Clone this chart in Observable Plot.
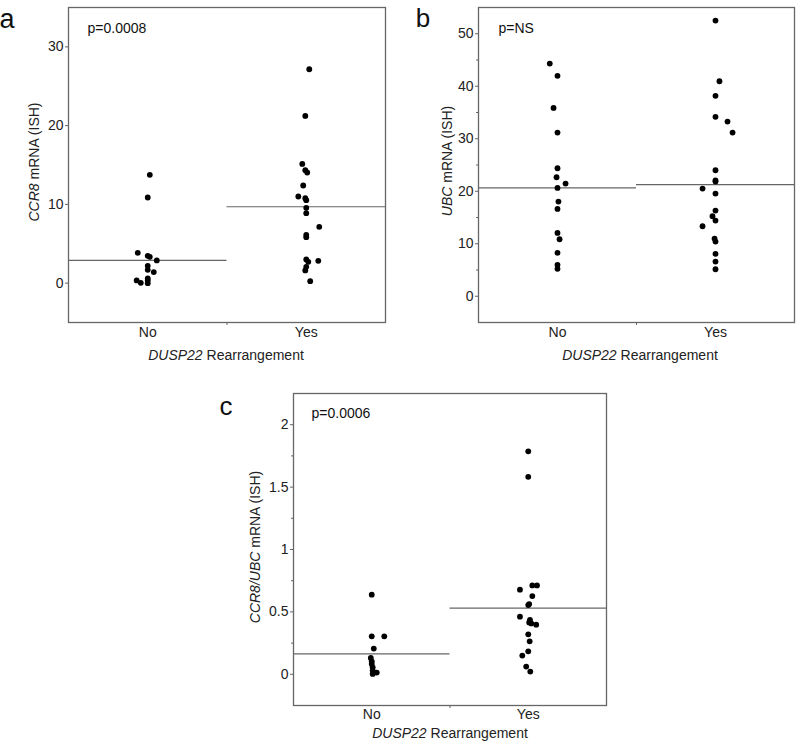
<!DOCTYPE html>
<html><head><meta charset="utf-8">
<script src="https://cdn.jsdelivr.net/npm/d3@7"></script>
<script src="https://cdn.jsdelivr.net/npm/@observablehq/plot@0.6"></script>
<style>
body{margin:0;background:#fff;font-family:"Liberation Sans",Arial,sans-serif;}
#wrap{position:relative;width:800px;height:746px;overflow:hidden;}
#wrap svg{position:absolute;overflow:visible;}
</style></head><body><div id="wrap"></div>
<script>
// ---------- data ----------
const groups = ["No", "Yes"];
const xTitle = ["DUSP22", " Rearrangement"];

// Panel a: CCR8 mRNA (ISH)
const ccr8No     = [13.75, 10.87, 3.85, 3.47, 3.34, 2.88, 2.2, 1.69, 1.4, 0.34, 0.04, 0.59, 0.34, 0];
const ccr8NoJit  = [0.013, 0, -0.063, 0, 0.013, 0.057, 0, 0, 0.038, -0.07, -0.044, 0, 0, 0];
const ccr8Yes    = [27.16, 21.23, 15.14, 14.34, 14.05, 12.4, 11.0, 10.79, 10.53, 9.56, 8.88, 7.15, 6.13, 5.84, 3.0, 2.71, 2.83, 2.07, 1.61, 0.25];
const ccr8YesJit = [0.019, -0.006, -0.025, -0.006, 0.006, -0.019, -0.05, -0.006, 0, 0, 0, 0.082, 0, 0, 0, 0.013, 0.076, 0, -0.006, 0.025];
const ccr8Means  = [2.9, 9.7];
const ccr8Ticks  = [0, 10, 20, 30];

// Panel b: UBC mRNA (ISH)
const ubcNo     = [44.32, 41.98, 35.88, 31.18, 24.38, 22.67, 21.47, 20.64, 18.04, 16.64, 12.07, 10.86, 8.27, 5.98, 5.22];
const ubcNoJit  = [-0.049, 0, -0.025, 0, 0, -0.006, 0.051, 0, 0.006, 0, 0, 0.013, 0, 0, 0];
const ubcYes    = [52.51, 40.95, 38.17, 34.17, 33.28, 31.18, 24.0, 22.05, 21.85, 20.51, 19.56, 16.32, 15.24, 14.42, 13.33, 10.99, 10.42, 8.08, 6.61, 5.14];
const ubcYesJit = [0, 0.025, 0, 0, 0.076, 0.108, 0, 0, 0, -0.082, 0, 0, -0.019, 0, -0.082, -0.006, 0, 0, 0, 0];
const ubcMeans  = [20.65, 21.28];
const ubcTicks  = [0, 10, 20, 30, 40, 50];
const ubcMinor  = [5, 15, 25, 35, 45];

// Panel c: CCR8/UBC mRNA (ISH)
const ratioNo     = [0.638, 0.304, 0.304, 0.206, 0.131, 0.104, 0.083, 0.056, 0.03, 0.003, 0.014];
const ratioNoJit  = [0, 0, 0.08, 0.013, -0.006, 0, 0, 0.006, 0.006, 0.006, 0.032];
const ratioYes    = [1.787, 1.582, 0.712, 0.712, 0.678, 0.627, 0.563, 0.555, 0.462, 0.435, 0.416, 0.408, 0.398, 0.32, 0.264, 0.184, 0.15, 0.062, 0.022];
const ratioYesJit = [0, 0, 0.026, 0.056, -0.053, 0.026, 0.006, 0, -0.053, 0.011, 0.006, 0.019, 0.051, 0, 0.009, 0, -0.038, -0.013, 0.013];
const ratioMeans  = [0.163, 0.531];
const ratioTicks  = [0, 0.5, 1, 1.5, 2];
const ratioMinor  = [0.25, 0.75, 1.25, 1.75];

// ---------- drawing ----------
const FONT = "'Liberation Sans', Arial, sans-serif";
const GRAY = "#666";
const wrap = document.getElementById("wrap");

function rows(no, noJit, yes, yesJit) {
  const r = [];
  no.forEach((v, i) => r.push({g: 0, value: v, jit: noJit[i]}));
  yes.forEach((v, i) => r.push({g: 1, value: v, jit: yesJit[i]}));
  return r;
}

function panel(o) {
  const data = rows(o.no, o.noJit, o.yes, o.yesJit);
  const means = o.means.map((m, i) => ({g: i, mean: m}));
  const marks = [
    Plot.ruleY(means, {x1: d => d.g, x2: d => d.g + 1, y: "mean", stroke: GRAY, strokeWidth: 1.2}),
    Plot.dot(data, {x: d => d.g + 0.5 + d.jit, y: "value", r: 2.9, fill: "#000", stroke: "none"}),
    Plot.frame({stroke: GRAY, strokeWidth: 1.3}),
    Plot.axisY({ticks: o.ticks, tickSize: 3, tickPadding: 2, label: null, fontSize: 14, stroke: GRAY, fill: "#222", tickFormat: d => String(d)}),
    Plot.axisX({ticks: [1], tickSize: 3, tickFormat: () => "", label: null, stroke: GRAY}),
    Plot.axisX({ticks: [0.5, 1.5], tickSize: 0, tickPadding: o.xPad, tickFormat: d => groups[Math.floor(d)], label: null, fontSize: 14, fill: "#222"}),
    Plot.text([o.p], {frameAnchor: "top-left", dx: o.pdx, dy: o.pdy, textAnchor: "start", fontSize: 14, fill: "#111"})
  ];
  if (o.minor) marks.push(Plot.axisY({ticks: o.minor, tickSize: 2, tickFormat: () => "", label: null, stroke: GRAY}));
  const svg = Plot.plot({
    width: o.width, height: o.height,
    marginLeft: o.ml, marginRight: o.mr, marginTop: o.mt, marginBottom: o.mb,
    style: {fontFamily: FONT, fontSize: "14px", background: "transparent", overflow: "visible"},
    x: {domain: [0, 2]},
    y: {domain: o.domain},
    marks
  });
  svg.style.left = o.left + "px";
  svg.style.top = o.top + "px";
  const s = d3.select(svg);
  // y title
  const yt = s.append("text")
    .attr("transform", `translate(${o.ytx},${o.yty}) rotate(-90)`)
    .attr("text-anchor", "middle").attr("dy", "0.35em")
    .attr("font-size", 14).attr("font-family", FONT).attr("fill", "#222");
  yt.append("tspan").attr("font-style", "italic").text(o.yLabel[0]);
  yt.append("tspan").text(o.yLabel[1]);
  // x title
  const xt = s.append("text")
    .attr("x", o.xtx).attr("y", o.xty)
    .attr("text-anchor", "middle").attr("dy", "0.35em")
    .attr("font-size", 14).attr("font-family", FONT).attr("fill", "#222");
  xt.append("tspan").attr("font-style", "italic").text(xTitle[0]);
  xt.append("tspan").text(xTitle[1]);
  // panel letter
  s.append("text").attr("x", o.lx).attr("y", o.ly)
    .attr("font-size", o.lsize).attr("font-family", FONT).attr("fill", "#111").text(o.letter);
  wrap.appendChild(svg);
}

panel({
  no: ccr8No, noJit: ccr8NoJit, yes: ccr8Yes, yesJit: ccr8YesJit, means: ccr8Means,
  domain: [-5, 35], ticks: ccr8Ticks, p: "p=0.0008", letter: "a",
  yLabel: ["CCR8", " mRNA (ISH)"],
  left: 0, top: 0, width: 400, height: 372, ml: 68, mr: 15, mt: 7, mb: 50,
  xPad: 5, pdx: 19, pdy: 16, ytx: 34, yty: 162, xtx: 226, xty: 355, lx: 7, ly: 28, lsize: 27
});
panel({
  no: ubcNo, noJit: ubcNoJit, yes: ubcYes, yesJit: ubcYesJit, means: ubcMeans,
  domain: [-5, 55], ticks: ubcTicks, minor: ubcMinor, p: "p=NS", letter: "b",
  yLabel: ["UBC", " mRNA (ISH)"],
  left: 400, top: 0, width: 400, height: 372, ml: 78, mr: 6, mt: 7, mb: 50,
  xPad: 5, pdx: 20, pdy: 16, ytx: 47, yty: 161, xtx: 240, xty: 355, lx: 23, ly: 27, lsize: 26
});
panel({
  no: ratioNo, noJit: ratioNoJit, yes: ratioYes, yesJit: ratioYesJit, means: ratioMeans,
  domain: [-0.25, 2.25], ticks: ratioTicks, minor: ratioMinor, p: "p=0.0006", letter: "c",
  yLabel: ["CCR8/UBC", " mRNA (ISH)"],
  left: 200, top: 385, width: 420, height: 361, ml: 93, mr: 14, mt: 8, mb: 41,
  xPad: 4, pdx: 18, pdy: 15, ytx: 55, yty: 162, xtx: 250, xty: 348, lx: 26, ly: 30, lsize: 26
});
</script></body></html>
